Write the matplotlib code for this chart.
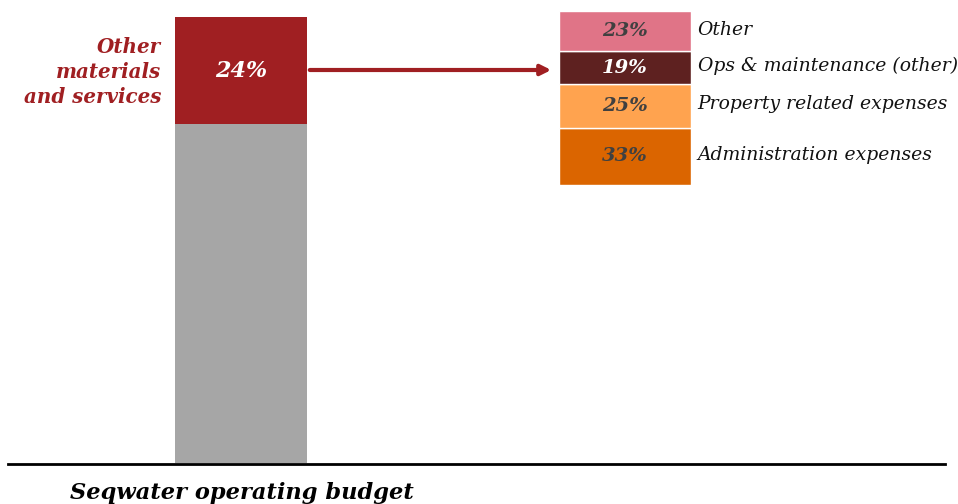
import matplotlib
matplotlib.use("Agg")
import matplotlib.pyplot as plt
from matplotlib.lines import Line2D

# ---- data ----
budget_parts = ["Rest of budget", "Other materials and services"]
budget_values = [76, 24]
budget_labels = ["", "24%"]

detail_parts = ["Administration expenses", "Property related expenses",
                "Ops & maintenance (other)", "Other"]
detail_values = [33, 25, 19, 23]
detail_labels = ["33%", "25%", "19%", "23%"]

budget_colors = ["#A6A6A6", "#A01F22"]
detail_colors = ["#DB6500", "#FFA34F", "#5E2120", "#E07487"]
detail_text_colors = ["#404040", "#404040", "white", "#404040"]

W, H = 958, 504
fig = plt.figure(figsize=(W / 100, H / 100), dpi=100)
SERIF = ["DejaVu Serif"]

def fx(px):
    return px / W

def fy(py):
    return 1 - py / H

# left bar axes
ax1 = fig.add_axes([fx(175), fy(463), fx(307) - fx(175), fy(17) - fy(463)])
bottom = 0
for v, c, lab in zip(budget_values, budget_colors, budget_labels):
    ax1.bar(0, v, bottom=bottom, width=1.0, color=c, linewidth=0)
    if lab:
        ax1.text(0, bottom + v / 2, lab, ha="center", va="center", color="white",
                 fontsize=16, fontweight="bold", fontstyle="italic", family=SERIF)
    bottom += v
ax1.set_xlim(-0.5, 0.5)
ax1.set_ylim(0, sum(budget_values))
ax1.axis("off")

# right bar axes
ax2 = fig.add_axes([fx(559), fy(185), fx(691) - fx(559), fy(11) - fy(185)])
bottom = 0
for v, c, lab, tc, name in zip(detail_values, detail_colors, detail_labels,
                               detail_text_colors, detail_parts):
    ax2.bar(0, v, bottom=bottom, width=1.0, color=c, edgecolor="white", linewidth=1)
    ax2.text(0, bottom + v / 2, lab, ha="center", va="center", color=tc,
             fontsize=14, fontweight="bold", fontstyle="italic", family=SERIF)
    ax2.text(0.55, bottom + v / 2 + 0.8, name, ha="left", va="center", color="#111111",
             fontsize=13.5, fontstyle="italic", family=SERIF, clip_on=False)
    bottom += v
ax2.set_xlim(-0.5, 0.5)
ax2.set_ylim(0, sum(detail_values))
ax2.axis("off")

# left label
fig.text(fx(161), fy(72), "Other\nmaterials\nand services", ha="right", va="center",
         color="#A01F22", fontsize=14.3, fontweight="bold", fontstyle="italic",
         family=SERIF, linespacing=1.3)

# arrow
fig.patches.append(matplotlib.patches.FancyArrowPatch(
    (fx(307), fy(70)), (fx(554), fy(70)), transform=fig.transFigure,
    arrowstyle="-|>,head_length=6,head_width=3", color="#A01F22", linewidth=3,
    mutation_scale=1))

# baseline
fig.add_artist(Line2D([fx(8), fx(945)], [fy(464), fy(464)], color="black",
                      linewidth=2, transform=fig.transFigure))

# title
fig.text(fx(70), fy(493), "Seqwater operating budget", ha="left", va="center",
         color="black", fontsize=16.2, fontweight="bold", fontstyle="italic",
         family=SERIF)

fig.savefig("out.png", dpi=100)
